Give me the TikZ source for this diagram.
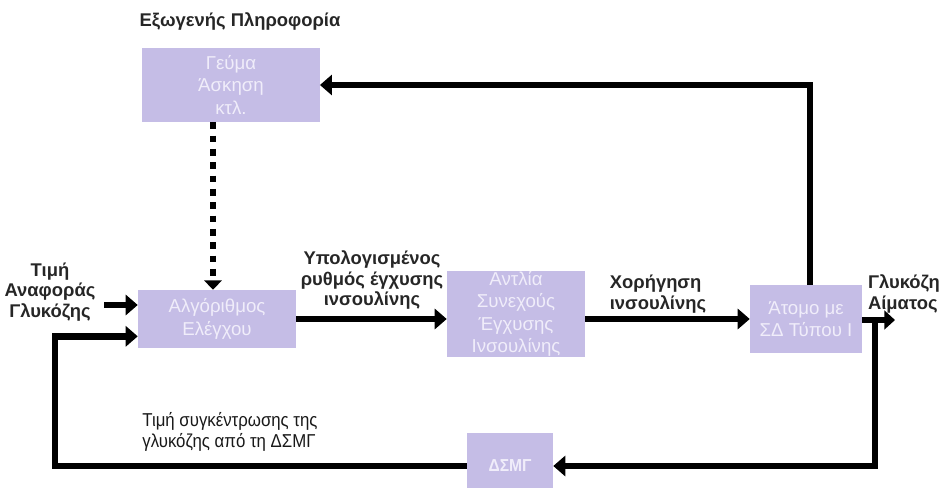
\documentclass[tikz,border=0pt]{standalone}
\usepackage{fontspec}
\setmainfont{Liberation Sans}
\newfontfamily\narrowfont[FakeStretch=0.9]{Liberation Sans}
\usetikzlibrary{arrows.meta}
\definecolor{boxfill}{HTML}{C5BDE6}
\definecolor{boxtext}{HTML}{F0EDFA}
\begin{document}
\begin{tikzpicture}[x=0.75pt,y=-0.75pt,
    block/.style={fill=boxfill, text=boxtext, align=center, inner sep=0pt,
        font=\fontsize{14}{16.8}\selectfont},
    lbl/.style={font=\bfseries\fontsize{13.8}{15.5}\selectfont, text=black!85, inner sep=0pt},
    flow/.style={line width=5pt, -{Triangle[length=9pt,width=15pt]}},
    dotflow/.style={line width=5pt, dash pattern=on 5pt off 5pt,
        -{Triangle[length=7pt,width=13pt]}}]

    \clip (0,0) rectangle (945,488);

    % blocks
    \node[block, minimum width=133pt, minimum height=55.5pt] (meal) at (231,85) {Γεύμα\\Άσκηση\\κτλ.};
    \node[block, minimum width=118.5pt, minimum height=43.5pt] (algo) at (217,319) {Αλγόριθμος\\Ελέγχου};
    \node[block, minimum width=103.5pt, minimum height=62pt] (pump) at (516,314) {Αντλία\\Συνεχούς\\Έγχυσης\\Ινσουλίνης};
    \node[block, minimum width=84pt, minimum height=51pt] (person) at (806,319) {Άτομο με\\ΣΔ Τύπου Ι};
    \node[block, minimum width=64.5pt, minimum height=50pt, font=\narrowfont\bfseries\fontsize{13}{15}\selectfont] (cgm) at (510,466) {ΔΣΜΓ};

    % labels
    \node[lbl] (ext) at (240,22) {Εξωγενής Πληροφορία};
    \node[lbl, align=center] (ref) at (50,292) {Τιμή\\Αναφοράς\\Γλυκόζης};
    \node[lbl, align=center] (rate) at (372,280) {Υπολογισμένος\\ρυθμός έγχυσης\\ινσουλίνης};
    \node[lbl, align=left] (dose) at (658,294) {Χορήγηση\\ινσουλίνης};
    \node[lbl, align=left] (bg) at (904,294) {Γλυκόζη\\Αίματος};
    \node[lbl, align=left, font=\narrowfont\fontsize{14}{15.5}\selectfont, text=black!90] (meas) at (230,432) {Τιμή συγκέντρωσης της\\γλυκόζης από τη ΔΣΜΓ};

    % connectors
    \coordinate (refin) at (104,305);
    \coordinate (out) at (895,320);
    \coordinate (split) at (875,320);
    \coordinate (back) at (55,465);
    \draw[flow] (refin) -- (algo.west |- refin);
    \draw[flow] (algo.east) -- (pump.west |- algo.east);
    \draw[flow] (pump.east |- person.west) -- (person.west);
    \draw[flow] ([xshift=3pt]person.north) |- (meal.east);
    \draw[dotflow] ([xshift=-3pt]algo.north |- meal.south) -- ([xshift=-3pt]algo.north);
    \draw[line width=5pt, -{Triangle[length=8pt,width=14pt]}] (person.east |- out) -- (out);
    \draw[flow] ([yshift=-2pt]split) |- (cgm.east);
    \draw[flow] (cgm.west) -| (back) |- ([yshift=-13pt]algo.west);
\end{tikzpicture}
\end{document}
